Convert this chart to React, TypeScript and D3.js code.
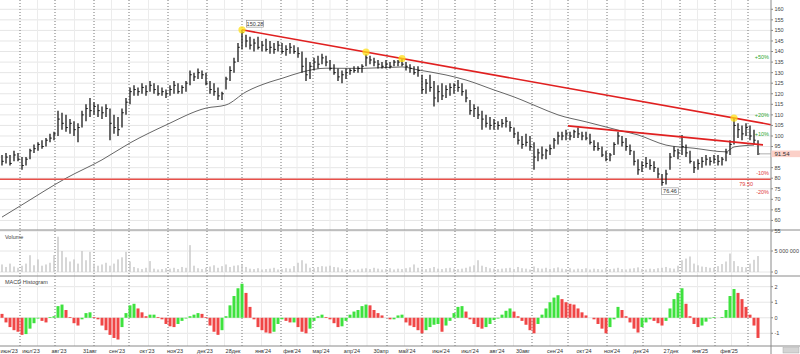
import React, { useEffect, useRef } from "react";
import * as d3 from "d3";

// daily bars (one every ~4px of the reference), price in roubles
const highs = [
  91, 92, 91, 93, 92, 90, 90, 94, 96, 97, 98, 99, 101, 102, 112,
  111, 110, 108, 107, 106, 112, 115, 118, 116, 115, 114, 115, 113, 110, 109, 113, 118, 123,
  124, 123, 125, 124, 126, 125, 124, 123, 122, 124, 126, 125, 124, 126, 131, 130, 132, 131, 130, 126, 125, 123, 121, 128, 133, 137, 144,
  150.28, 148, 147, 146, 147, 145, 146, 145, 144, 145, 144, 143, 144, 143, 142,
  140, 137, 135, 137, 138, 139, 138, 136, 134, 132, 131, 132, 132, 133, 133, 134, 138.7, 138, 137,
  136, 135, 136, 135, 136, 136, 136.5, 135, 134, 133, 133, 129, 127, 129, 126, 124, 125, 124,
  125, 125, 126.5, 125, 122, 117, 115, 114, 112, 110, 109, 108, 107, 108, 109, 107,
  104, 102, 100, 101, 100, 97, 94, 95, 94, 96, 99, 102, 102, 103, 102, 103, 104, 102, 102, 101, 98, 97,
  95, 93, 92, 97, 102, 100, 99, 96, 93, 89, 88, 90, 89, 88, 85, 82, 84, 92, 95, 94, 100.5, 96, 93, 88,
  89, 90, 91, 90, 91, 91, 90, 94, 98, 108.5, 106, 105, 106, 105, 103, 98,
];
const lows = [
  86, 87, 86, 88, 88, 84, 86, 89, 92, 93, 94, 95, 97, 98, 100,
  103, 102, 101, 100, 97, 104, 107, 109, 110, 109, 108, 109, 98, 101, 100, 104, 110, 115,
  119, 119, 120, 119, 121, 120, 119, 119, 118, 119, 120, 120, 120, 121, 124, 126, 127, 127, 124, 120, 119, 117, 117, 122, 126, 130, 135,
  141, 142, 141, 140, 141, 140, 140, 139, 139, 140, 139, 138, 139, 139, 137,
  130, 126, 127, 131, 132, 134, 133, 131, 129, 126, 125, 127, 129, 130, 130, 130, 133, 134, 133,
  132, 132, 132, 132, 133, 133, 133, 131, 130, 129, 128, 120, 120, 121, 114, 116, 117, 118,
  119, 120, 121, 119, 116, 110, 109, 108, 103, 104, 103, 103, 103, 104, 104, 102,
  99, 96, 94, 95, 93, 84, 88, 89, 89, 91, 94, 96, 98, 98, 98, 99, 99, 98, 98, 96, 93, 93,
  90, 88, 88, 91, 96, 95, 93, 91, 86, 81.6, 83, 85, 84, 83, 80, 76.46, 77, 84, 90, 89, 91, 90, 87, 82.5,
  84, 85, 86, 86, 87, 86, 86, 88, 91, 96, 99, 98, 100, 98, 96, 91,
];
const closes = [
  88, 90, 87, 91, 89, 86, 89, 93, 94, 96, 95, 98, 99, 101, 108,
  106, 104, 106, 103, 104, 110, 113, 112, 114, 112, 111, 113, 106, 104, 103, 111, 116, 121,
  122, 121, 123, 121, 124, 122, 120, 121, 120, 122, 124, 121, 123, 125, 129, 128, 130, 129, 125, 122, 121, 119, 120, 127, 131, 135, 142,
  149, 145, 143, 144, 142, 143, 141, 142, 141, 143, 140, 141, 142, 140, 139,
  133, 129, 133, 135, 134, 137, 135, 132, 130, 128, 129, 130, 131, 131, 132, 133, 137, 136, 135,
  134, 133, 134, 133, 135, 135, 134, 133, 132, 130, 131, 122, 125, 123, 118, 121, 119, 122,
  123, 124, 123, 121, 118, 112, 113, 110, 108, 106, 105, 106, 105, 106, 107, 104,
  101, 98, 96, 97, 95, 90, 92, 91, 93, 94, 98, 100, 100, 101, 100, 102, 101, 100, 99, 97, 95, 94,
  91, 89, 91, 96, 100, 97, 95, 93, 88, 84, 86, 87, 86, 85, 82, 78, 82, 90, 93, 92, 95, 92, 88, 85,
  87, 88, 89, 88, 89, 88, 89, 92, 96, 105, 103, 101, 104, 100, 98, 91.54,
];
// volume, millions of shares
const volumes = [
  1.8, 1.2, 2.0, 1.3, 1.0, 1.5, 2.0, 4.0, 1.6, 3.0, 1.5, 1.8, 2.2, 4.0, 8.4,
  5.0, 3.5, 2.5, 3.0, 2.0, 5.0, 2.8, 4.8, 2.0, 1.5, 1.8, 2.2, 1.5, 2.0, 3.0, 3.5, 4.8, 2.5,
  1.2, 0.9, 0.7, 1.0, 2.6, 0.8, 0.6, 0.7, 0.9, 0.8, 1.0, 0.7, 1.2, 1.0, 6.4, 1.5, 0.9, 0.7, 1.0, 1.3, 1.6, 1.0, 1.4, 1.8, 1.2, 1.5, 1.6,
  1.8, 1.2, 0.8, 0.7, 0.9, 0.6, 0.7, 0.8, 1.0, 0.6, 0.7, 0.9, 0.8, 1.4, 2.2,
  2.8, 2.0, 1.0, 0.9, 1.2, 1.4, 1.3, 1.5, 1.2, 1.1, 0.8, 0.6, 0.7, 0.5, 0.6, 0.8, 0.9, 0.7, 1.0,
  0.8, 0.6, 0.7, 0.9, 0.6, 0.8, 0.7, 0.9, 1.1, 1.8, 1.0, 0.8, 0.7, 0.9, 1.2, 0.8, 0.7, 0.9,
  1.0, 0.8, 0.7, 0.8, 1.0, 1.3, 1.6, 2.8, 1.5, 1.2, 0.9, 0.8, 0.7, 0.8, 0.9, 1.0,
  0.7, 1.2, 0.9, 0.8, 0.6, 1.3, 0.9, 0.8, 1.0, 0.7, 0.9, 1.1, 0.8, 0.7, 0.9, 0.6, 0.8, 0.7, 0.9, 0.6, 0.8, 0.7,
  0.6, 0.9, 0.7, 0.8, 1.0, 0.7, 0.6, 0.8, 0.9, 1.1, 0.7, 0.6, 0.8, 0.7, 0.9, 1.0, 1.2, 0.9, 0.8, 1.5, 2.8, 3.2, 3.7, 2.0,
  1.6, 1.3, 1.2, 1.0, 1.0, 1.4, 1.9, 2.5, 4.4, 2.6, 1.4, 1.2, 1.1, 2.0, 2.9, 3.8,
];
const macdHist = [
  0.25, -0.3, -0.6, -0.8, -0.9, -1.1, -1.05, -0.7, -0.35, -0.05, -0.2, -0.3, 0.05, 0.1, 0.75,
  0.85, 0.5, 0.05, -0.35, -0.5, -0.1, 0.3, 0.35, 0.05, -0.1, -0.5, -0.8, -1.1, -1.3, -1.4, -0.6, 0.3, 0.8,
  0.9, 0.6, 0.35, 0.1, 0.2, 0.2, 0.05, -0.1, -0.4, -0.55, -0.6, -0.4, -0.2, -0.05, 0.1, 0.2, 0.3, 0.25, 0.05, -0.5, -0.9, -1.1, -0.8, 0.1, 0.8, 1.4, 1.9,
  2.19, 1.6, 0.7, -0.1, -0.6, -0.8, -0.95, -1.0, -0.9, -0.4, -0.1, -0.2, -0.3, -0.3, -0.6,
  -0.9, -1.0, -0.7, -0.2, 0.1, 0.2, 0.05, -0.1, -0.35, -0.6, -0.55, -0.2, 0.2, 0.4, 0.5, 0.75, 0.85, 0.8, 0.5,
  0.3, 0.15, 0.0, -0.1, -0.1, 0.15, 0.2, -0.3, -0.5, -0.6, -0.8, -1.0, -0.8, -0.6, -0.45, -0.4, -0.9, -0.5,
  -0.2, 0.3, 0.7, 0.75, 0.4, -0.1, -0.4, -0.6, -0.7, -0.6, -0.4, -0.15, -0.05, 0.2, 0.45, 0.6,
  0.4, 0.1, -0.2, -0.45, -0.8, -1.0, -0.4, 0.2, 0.6, 1.0, 1.3, 1.45, 1.2, 1.0, 0.9, 0.85, 0.6, 0.35, 0.15, 0.0, -0.1, -0.4,
  -0.7, -1.0, -0.6, -0.1, 0.7, 0.5, 0.1, -0.3, -0.7, -0.95, -0.6, -0.3, -0.1, -0.2, -0.35, -0.5, -0.2, 0.6, 1.2, 1.6, 1.9, 0.9, 0.1, -0.4,
  -0.6, -0.5, -0.25, -0.05, 0.05, 0.0, 0.05, 0.5, 1.4, 1.85, 1.6, 1.2, 0.7, 0.2, -0.5, -1.3,
];

// moving average, read at a few bars
const maIndex = [0, 5, 16, 25, 32, 41, 51, 56, 61, 67, 70, 75, 81, 90, 100, 104, 111, 116, 123, 128, 130, 134, 139, 146, 154, 159, 166, 173, 181, 183, 188];
const maValues = [61.6, 67.4, 80, 88.7, 96.7, 105.2, 113.2, 114.7, 120.9, 125.6, 127.3, 130.3, 132.1, 132, 132.7, 131.3, 128.9, 126.5, 121.8, 118.5, 117, 113.8, 110, 106.7, 102.8, 100.5, 95.7, 94.2, 92.5, 94.8, 95.7];

// month boundaries (bar index) and the date labels under the chart
const monthStarts = [4.5, 13.25, 23, 31.75, 41.5, 51.25, 60, 69.75, 77.75, 86.25, 96.25, 105, 113.25, 123.25, 132.5, 141.5, 151.25, 160.25, 169.5, 178.25, 186.5];
const xLabels = ["июн'23", "июл'23", "авг'23", "31авг", "сен'23", "окт'23", "ноя'23", "дек'23", "28дек", "янв'24", "фев'24", "мар'24", "апр'24", "30апр", "май'24", "июн'24", "июл'24", "авг'24", "30авг", "сен'24", "окт'24", "ноя'24", "дек'24", "27дек", "янв'25", "фев'25"];
const xLabelPos = [0, 7.25, 14.25, 22, 28.75, 36.25, 43.25, 50.75, 57.75, 65.25, 72.5, 79.75, 87.5, 94.75, 101.25, 109.75, 117, 123.75, 130.25, 138.25, 145.5, 152.5, 159.75, 167.25, 174.5, 181.75];

const priceTicks = d3.range(55, 161, 5);
const volTicks = [0, 5];
const macdTicks = [2, 1, 0, -1];

// annotations
const resistance = [[60, 150.28], [183, 108.5]];
const resistanceTouches = [60, 91, 100, 183];
const lowerTrend = [[141.5, 104.8], [190.25, 95.8]];
const supportLevel = 79.5;
const percentMarks = [50, 20, 10, -10, -20];
const peakIndex = 60;
const lowIndex = 165;

const App = () => {
  const svgRef = useRef(null);

  useEffect(() => {
    const W = 800;
    const axisX = 771;
    const font = "Liberation Sans, Arial, sans-serif";
    const svg = d3.select(svgRef.current);
    svg.selectAll("*").remove();
    svg.style("font-family", font);

    const N = closes.length;
    const last = closes[N - 1];
    const x = d3.scaleLinear().domain([0, N - 1]).range([2, 758]);
    const y = d3.scaleLinear().domain([55, 160]).range([231, 9.3]);
    const yVol = d3.scaleLinear().domain([0, 5]).range([272, 251]);
    const yMacd = d3.scaleLinear().domain([-1, 2]).range([333.3, 286.7]);

    svg.append("rect").attr("width", W).attr("height", 354).attr("fill", "#fff");

    // horizontal grid
    const grid = svg.append("g");
    grid.selectAll(".hp").data(priceTicks).enter().append("line")
      .attr("x1", 0).attr("x2", axisX)
      .attr("y1", (d) => y(d)).attr("y2", (d) => y(d))
      .attr("stroke", "#e6e6e6");
    grid.selectAll(".hv").data(volTicks).enter().append("line")
      .attr("x1", 0).attr("x2", axisX)
      .attr("y1", (d) => yVol(d)).attr("y2", (d) => yVol(d))
      .attr("stroke", "#e6e6e6");
    grid.selectAll(".hm").data(macdTicks).enter().append("line")
      .attr("x1", 0).attr("x2", axisX)
      .attr("y1", (d) => yMacd(d)).attr("y2", (d) => yMacd(d))
      .attr("stroke", "#e6e6e6");

    // mid-month light verticals and month dashes
    const mids = monthStarts.slice(1).map((m, i) => (m + monthStarts[i]) / 2);
    grid.selectAll(".vm").data(mids).enter().append("line")
      .attr("x1", (d) => x(d)).attr("x2", (d) => x(d))
      .attr("y1", 0).attr("y2", 346)
      .attr("stroke", "#ececec");
    grid.selectAll(".vd").data(monthStarts).enter().append("line")
      .attr("x1", (d) => x(d)).attr("x2", (d) => x(d))
      .attr("y1", 0).attr("y2", 346)
      .attr("stroke", "#777")
      .attr("stroke-dasharray", "1,2");

    // moving average
    const ma = d3.line()
      .x((d) => x(d[0]))
      .y((d) => y(d[1]))
      .curve(d3.curveMonotoneX);
    svg.append("path")
      .datum(maIndex.map((d, i) => [d, maValues[i]]))
      .attr("fill", "none")
      .attr("stroke", "#555")
      .attr("stroke-width", 0.9)
      .attr("d", ma);

    // support level
    svg.append("line")
      .attr("x1", 0).attr("x2", axisX)
      .attr("y1", y(supportLevel)).attr("y2", y(supportLevel))
      .attr("stroke", "#e8504a").attr("stroke-width", 1.6);

    // HLC bars
    const bars = svg.append("g").attr("stroke", "#1a1a1a").attr("stroke-width", 1.3);
    closes.forEach((c, i) => {
      bars.append("line")
        .attr("x1", x(i)).attr("x2", x(i))
        .attr("y1", y(highs[i])).attr("y2", y(lows[i]));
      bars.append("line")
        .attr("x1", x(i)).attr("x2", x(i) + 1.8)
        .attr("y1", y(c)).attr("y2", y(c))
        .attr("stroke-width", 1);
    });

    // resistance line, extended to the axis
    const slope = (resistance[1][1] - resistance[0][1]) / (resistance[1][0] - resistance[0][0]);
    const resAt = (i) => resistance[0][1] + slope * (i - resistance[0][0]);
    const endIdx = x.invert(axisX);
    svg.append("line")
      .attr("x1", x(resistance[0][0])).attr("y1", y(resistance[0][1]))
      .attr("x2", x(endIdx)).attr("y2", y(resAt(endIdx)))
      .attr("stroke", "#e02020").attr("stroke-width", 1.6);

    svg.append("line")
      .attr("x1", x(lowerTrend[0][0])).attr("y1", y(lowerTrend[0][1]))
      .attr("x2", x(lowerTrend[1][0])).attr("y2", y(lowerTrend[1][1]))
      .attr("stroke", "#e02020").attr("stroke-width", 1.6);

    svg.selectAll(".touch").data(resistanceTouches).enter().append("circle")
      .attr("cx", (d) => x(d)).attr("cy", (d) => y(resAt(d)))
      .attr("r", 3.6)
      .attr("fill", "#ffe014").attr("opacity", 0.75);

    // high / low labels
    const boxLabel = (cx, cy, txt) => {
      const g = svg.append("g");
      g.append("rect")
        .attr("x", cx - 8.5).attr("y", cy - 3.3)
        .attr("width", 17).attr("height", 6.6)
        .attr("fill", "#fff").attr("stroke", "#888").attr("stroke-width", 0.6);
      g.append("text")
        .attr("x", cx).attr("y", cy)
        .attr("dy", "0.35em")
        .attr("text-anchor", "middle")
        .attr("font-size", 5.5).attr("fill", "#333")
        .text(txt);
    };
    boxLabel(x(peakIndex) + 13, y(highs[peakIndex]) - 6, highs[peakIndex].toFixed(2));
    boxLabel(x(lowIndex) + 8, y(lows[lowIndex]) + 5.5, lows[lowIndex].toFixed(2));

    // percent marks from last close
    svg.selectAll(".pct").data(percentMarks).enter().append("text")
      .attr("x", 769)
      .attr("y", (d) => y(last * (1 + d / 100)))
      .attr("dy", "0.35em")
      .attr("text-anchor", "end")
      .attr("font-size", 5.5)
      .attr("fill", (d) => (d > 0 ? "#2fa82f" : "#e03a3a"))
      .text((d) => (d > 0 ? `+${d}%` : `${d}%`));

    svg.append("text")
      .attr("x", 753).attr("y", y(supportLevel) + 4.5)
      .attr("dy", "0.35em")
      .attr("text-anchor", "end")
      .attr("font-size", 5.5).attr("fill", "#e03a3a")
      .text(supportLevel.toFixed(2));

    // volume
    svg.append("g").selectAll("rect").data(volumes).enter().append("rect")
      .attr("x", (d, i) => x(i) - 0.7)
      .attr("y", (d) => yVol(d))
      .attr("width", 1.4)
      .attr("height", (d) => yVol(0) - yVol(d))
      .attr("fill", "#c6c6c6");

    // MACD histogram
    svg.append("g").selectAll("rect").data(macdHist).enter().append("rect")
      .attr("x", (d, i) => x(i) - 1.5)
      .attr("y", (d) => yMacd(Math.max(d, 0)))
      .attr("width", 3)
      .attr("height", (d) => Math.abs(yMacd(0) - yMacd(d)))
      .attr("fill", (d, i) => (i > 0 && d >= macdHist[i - 1] ? "#3ee23e" : "#f04646"));

    // pane borders and right axis
    [230, 276, 346].forEach((py) => {
      svg.append("line")
        .attr("x1", 0).attr("x2", W)
        .attr("y1", py).attr("y2", py)
        .attr("stroke", "#8a8a8a");
    });
    svg.append("line")
      .attr("x1", axisX).attr("x2", axisX)
      .attr("y1", 0).attr("y2", 354)
      .attr("stroke", "#8a8a8a");

    const axisLabels = (ticks, scale, fmt) => {
      const g = svg.append("g");
      g.selectAll("line").data(ticks).enter().append("line")
        .attr("x1", axisX).attr("x2", axisX + 2)
        .attr("y1", (d) => scale(d)).attr("y2", (d) => scale(d))
        .attr("stroke", "#8a8a8a");
      g.selectAll("text").data(ticks).enter().append("text")
        .attr("x", axisX + 3.5)
        .attr("y", (d) => scale(d))
        .attr("dy", "0.35em")
        .attr("font-size", 5.5).attr("fill", "#444")
        .text(fmt);
    };
    // the last-price tag hides the nearest price label
    axisLabels(priceTicks.filter((d) => Math.abs(y(d) - y(last)) > 5), y, (d) => d);
    axisLabels(volTicks, yVol, (d) => (d === 0 ? "0" : d3.format(",")(d * 1e6).replace(/,/g, " ")));
    axisLabels(macdTicks, yMacd, (d) => d);

    // last price tag
    svg.append("line")
      .attr("x1", x(N - 1)).attr("x2", axisX)
      .attr("y1", y(last)).attr("y2", y(last))
      .attr("stroke", "#999").attr("stroke-width", 0.8);
    svg.append("rect")
      .attr("x", axisX + 0.5).attr("y", y(last) - 3.3)
      .attr("width", 28.5).attr("height", 6.6)
      .attr("fill", "#fbd0c8");
    svg.append("text")
      .attr("x", axisX + 3.5).attr("y", y(last))
      .attr("dy", "0.35em")
      .attr("font-size", 6).attr("fill", "#333")
      .text(last.toFixed(2));

    // pane titles
    svg.append("text").attr("x", 5).attr("y", 237).attr("dy", "0.35em")
      .attr("font-size", 5.5).attr("fill", "#444").text("Volume");
    svg.append("text").attr("x", 5).attr("y", 282.5).attr("dy", "0.35em")
      .attr("font-size", 5.5).attr("fill", "#444").text("MACD Histogram");

    // date labels (first one kept inside the frame)
    svg.append("g").selectAll("text").data(xLabels).enter().append("text")
      .attr("x", (d, i) => (i === 0 ? 0.5 : x(xLabelPos[i])))
      .attr("y", 351)
      .attr("dy", "0.35em")
      .attr("text-anchor", (d, i) => (i === 0 ? "start" : "middle"))
      .attr("font-size", 5.5).attr("fill", "#333")
      .text((d) => d);

    svg.append("rect")
      .attr("x", 783).attr("y", 347.5).attr("width", 16).attr("height", 5.5)
      .attr("fill", "#d4d4d4").attr("stroke", "#aaa").attr("stroke-width", 0.5);
  }, []);

  return (
    <div style={{ position: "absolute", left: 0, top: 0 }}>
      <svg ref={svgRef} width={800} height={354} style={{ display: "block" }} />
    </div>
  );
};

export default App;
